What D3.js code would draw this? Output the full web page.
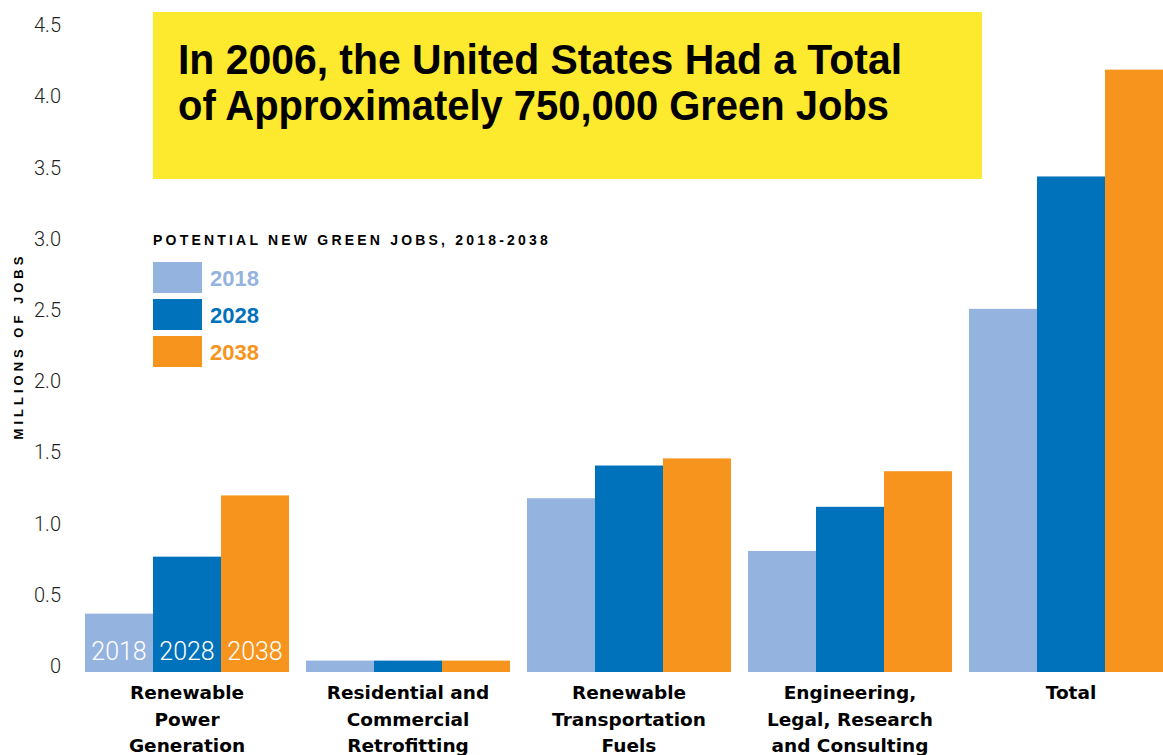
<!DOCTYPE html>
<html>
<head>
<meta charset="utf-8">
<script src="https://cdn.jsdelivr.net/npm/d3@7"></script>
<style>
  body { margin: 0; background: #fff; }
  svg { display: block; }
</style>
</head>
<body>
<svg id="chart" width="1163" height="755"></svg>
<script>
// categories along the x axis (line breaks as in the original labels)
var categories = [
    ['Renewable', 'Power', 'Generation'],
    ['Residential and', 'Commercial', 'Retrofitting'],
    ['Renewable', 'Transportation', 'Fuels'],
    ['Engineering,', 'Legal, Research', 'and Consulting'],
    ['Total']
];
var years = ['2018', '2028', '2038'];

// millions of jobs per category
var jobs2018 = [0.41, 0.08, 1.22, 0.85, 2.55];
var jobs2028 = [0.81, 0.08, 1.45, 1.16, 3.48];
var jobs2038 = [1.24, 0.08, 1.50, 1.41, 4.23];

var yTicks = [0, 0.5, 1.0, 1.5, 2.0, 2.5, 3.0, 3.5, 4.0, 4.5];
var yTickLabels = ['0', '0.5', '1.0', '1.5', '2.0', '2.5', '3.0', '3.5', '4.0', '4.5'];

var titleLines = ['In 2006, the United States Had a Total', 'of Approximately 750,000 Green Jobs'];

var colors = {'2018': '#95b3df', '2028': '#0072bc', '2038': '#f7941e'};

var svg = d3.select('#chart');
var catKeys = categories.map(function (c, i) { return 'c' + i; });
var series = {'2018': jobs2018, '2028': jobs2028, '2038': jobs2038};

var x = d3.scaleBand().domain(catKeys).range([85, 1173]).paddingInner(17 / 221).paddingOuter(0);
var xYear = d3.scaleBand().domain(years).range([0, x.bandwidth()]);
var y = d3.scaleLinear().domain([0, 4.5]).range([672, 31.2]);

// y tick labels
svg.append('g').selectAll('text')
    .data(yTicks)
    .enter().append('text')
    .attr('x', 61)
    .attr('y', function (d) { return y(d) - 6; })
    .attr('dy', '0.35em')
    .attr('text-anchor', 'end')
    .style('font-family', 'Roboto, sans-serif')
    .style('font-weight', 300)
    .style('font-size', '20px')
    .style('fill', '#231f20')
    .text(function (d, i) { return yTickLabels[i]; });

// axis title
svg.append('text')
    .attr('transform', 'translate(23,346) rotate(-90)')
    .attr('text-anchor', 'middle')
    .style('font-family', '"Liberation Sans", Arial, sans-serif')
    .style('font-weight', 'bold')
    .style('font-size', '13px')
    .style('letter-spacing', '4px')
    .style('fill', '#000')
    .text('MILLIONS OF JOBS');

// title box
svg.append('rect')
    .attr('x', 153).attr('y', 12)
    .attr('width', 829).attr('height', 167)
    .attr('fill', '#fde92d');

// condensed headline: squeeze a bold sans to the original line widths
var titleWidths = [724, 711];
svg.append('text')
    .style('font-family', '"Liberation Sans", Arial, sans-serif')
    .style('font-weight', 'bold')
    .style('font-size', '43px')
    .style('fill', '#000')
    .selectAll('tspan')
    .data(titleLines)
    .enter().append('tspan')
    .attr('x', 178)
    .attr('y', function (d, i) { return 74 + i * 46; })
    .attr('textLength', function (d, i) { return titleWidths[i]; })
    .attr('lengthAdjust', 'spacingAndGlyphs')
    .text(function (d) { return d; });

// bars
var groups = svg.append('g').selectAll('g')
    .data(catKeys)
    .enter().append('g')
    .attr('transform', function (d) { return 'translate(' + x(d) + ',0)'; });

groups.selectAll('rect')
    .data(function (d, i) { return years.map(function (yr) { return {year: yr, value: series[yr][i]}; }); })
    .enter().append('rect')
    .attr('x', function (d) { return xYear(d.year); })
    .attr('y', function (d) { return y(d.value); })
    .attr('width', xYear.bandwidth())
    .attr('height', function (d) { return y(0) - y(d.value); })
    .attr('fill', function (d) { return colors[d.year]; });

// year labels inside the first group
svg.append('g').selectAll('text')
    .data(years)
    .enter().append('text')
    .attr('x', function (d) { return x(catKeys[0]) + xYear(d) + xYear.bandwidth() / 2; })
    .attr('y', 651)
    .attr('dy', '0.35em')
    .attr('text-anchor', 'middle')
    .style('font-family', 'Roboto, sans-serif')
    .style('font-weight', 300)
    .style('font-size', '25px')
    .style('fill', '#fff')
    .text(function (d) { return d; });

// category labels
svg.append('g').selectAll('text')
    .data(categories)
    .enter().append('text')
    .attr('text-anchor', 'middle')
    .style('font-family', '"DejaVu Sans", sans-serif')
    .style('font-weight', 'bold')
    .style('font-size', '18.5px')
    .style('fill', '#000')
    .each(function (lines, i) {
        var cx = x(catKeys[i]) + x.bandwidth() / 2;
        d3.select(this).selectAll('tspan')
            .data(lines)
            .enter().append('tspan')
            .attr('x', cx)
            .attr('y', function (d, j) { return 699 + j * 26.5; })
            .text(function (d) { return d; });
    });

// legend
var legend = svg.append('g');
legend.append('text')
    .attr('x', 153).attr('y', 245)
    .style('font-family', '"Liberation Sans", Arial, sans-serif')
    .style('font-weight', 'bold')
    .style('font-size', '14px')
    .style('letter-spacing', '3.2px')
    .style('fill', '#000')
    .text('POTENTIAL NEW GREEN JOBS, 2018-2038');

var items = legend.selectAll('g.item')
    .data(years)
    .enter().append('g')
    .attr('class', 'item')
    .attr('transform', function (d, i) { return 'translate(153,' + (262 + i * 37) + ')'; });

items.append('rect')
    .attr('width', 49).attr('height', 31)
    .attr('fill', function (d) { return colors[d]; });

items.append('text')
    .attr('x', 57).attr('y', 16)
    .attr('dy', '0.35em')
    .style('font-family', '"Liberation Sans", Arial, sans-serif')
    .style('font-weight', 'bold')
    .style('font-size', '22px')
    .style('fill', function (d) { return colors[d]; })
    .text(function (d) { return d; });
</script>
</body>
</html>
